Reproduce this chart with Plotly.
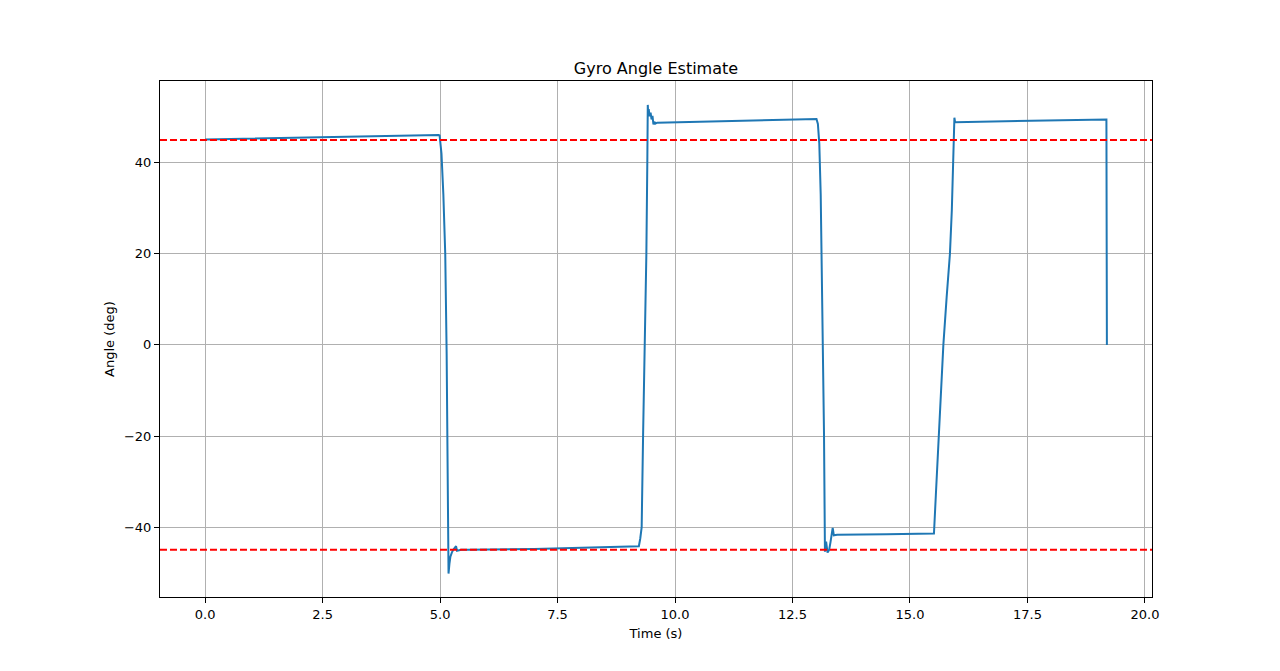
import plotly.graph_objects as go

# gyro angle samples (time in s, angle in deg)
time_s = [
    0.0, 1.0, 2.16, 3.1, 4.0, 4.97, 4.99, 5.03, 5.07, 5.11, 5.14, 5.16, 5.17, 5.18,
    5.20, 5.22, 5.25, 5.28, 5.34, 5.36, 5.45, 5.6, 7.0, 8.5, 9.23, 9.26, 9.29, 9.32,
    9.36, 9.39, 9.41, 9.42, 9.43, 9.44, 9.46, 9.48, 9.50, 9.52, 9.54, 9.56, 9.58,
    9.62, 11.0, 12.5, 12.98, 13.01, 13.04, 13.07, 13.10, 13.12, 13.15, 13.17, 13.19,
    13.215, 13.245, 13.28, 13.31, 13.355, 13.38, 13.45, 14.5, 15.51, 15.55, 15.6,
    15.65, 15.71, 15.78, 15.85, 15.89, 15.92, 15.94, 15.945, 15.96, 17.5, 19.18, 19.19,
]
angle_deg = [
    45.1, 45.3, 45.6, 45.8, 45.9, 46.1, 46.0, 42.0, 33.0, 20.0, -2.0, -24.0, -40.0, -50.2,
    -48.0, -46.5, -45.6, -45.0, -44.2, -45.2, -45.0, -44.95, -44.8, -44.5, -44.2, -42.5, -40.0, -20.0,
    0.0, 20.0, 40.0, 52.7, 50.5, 51.8, 50.2, 51.0, 49.5, 50.3, 48.4, 49.0, 48.6,
    48.8, 49.1, 49.4, 49.6, 49.6, 48.5, 44.2, 33.0, 20.0, 0.0, -19.4, -45.4,
    -43.2, -45.6, -45.0, -43.2, -40.2, -41.8, -41.7, -41.55, -41.4, -33.0, -21.7,
    -10.0, 0.0, 10.5, 20.0, 29.5, 40.0, 49.6, 49.9, 48.9, 49.2, 49.5, 0.0,
]

# target band
ref_levels = [45, -45]

x_ticks = [0.0, 2.5, 5.0, 7.5, 10.0, 12.5, 15.0, 17.5, 20.0]
y_ticks = [-40, -20, 0, 20, 40]

fig = go.Figure()

fig.add_trace(go.Scatter(
    x=time_s,
    y=angle_deg,
    mode='lines',
    line=dict(color='#1f77b4', width=2),
    showlegend=False,
))

for lvl in ref_levels:
    fig.add_shape(
        type='line', xref='x domain', yref='y',
        x0=0, x1=1, y0=lvl, y1=lvl,
        line=dict(color='red', width=2, dash='7px,3px'),
    )

axis_common = dict(
    showline=True, linecolor='black', linewidth=1, mirror=True,
    ticks='outside', ticklen=5, tickcolor='black', tickwidth=1,
    showgrid=True, gridcolor='#b0b0b0', gridwidth=1,
    zeroline=False,
    tickfont=dict(family='DejaVu Sans', size=13, color='black'),
    title_font=dict(family='DejaVu Sans', size=13, color='black'),
)

fig.update_xaxes(
    range=[-0.96, 20.15],
    tickvals=x_ticks,
    ticktext=[f'{v:.1f}' for v in x_ticks],
    title_text='Time (s)',
    title_standoff=8,
    **axis_common,
)
fig.update_yaxes(
    range=[-55.35, 57.95],
    tickvals=y_ticks,
    ticktext=[str(v).replace('-', '\u2212') for v in y_ticks],
    title_text='Angle (deg)',
    title_standoff=6,
    **axis_common,
)

# page body adds ~8px offset, margins compensate for it
fig.update_layout(
    width=1280,
    height=671,
    margin=dict(l=152, r=136, t=73, b=82),
    paper_bgcolor='white',
    plot_bgcolor='white',
    title=dict(
        text='Gyro Angle Estimate',
        x=0.5, xref='paper', xanchor='center',
        y=1 - 60 / 671, yref='container', yanchor='middle',
        font=dict(family='DejaVu Sans', size=16, color='black'),
    ),
)

fig.write_html('out.html')
